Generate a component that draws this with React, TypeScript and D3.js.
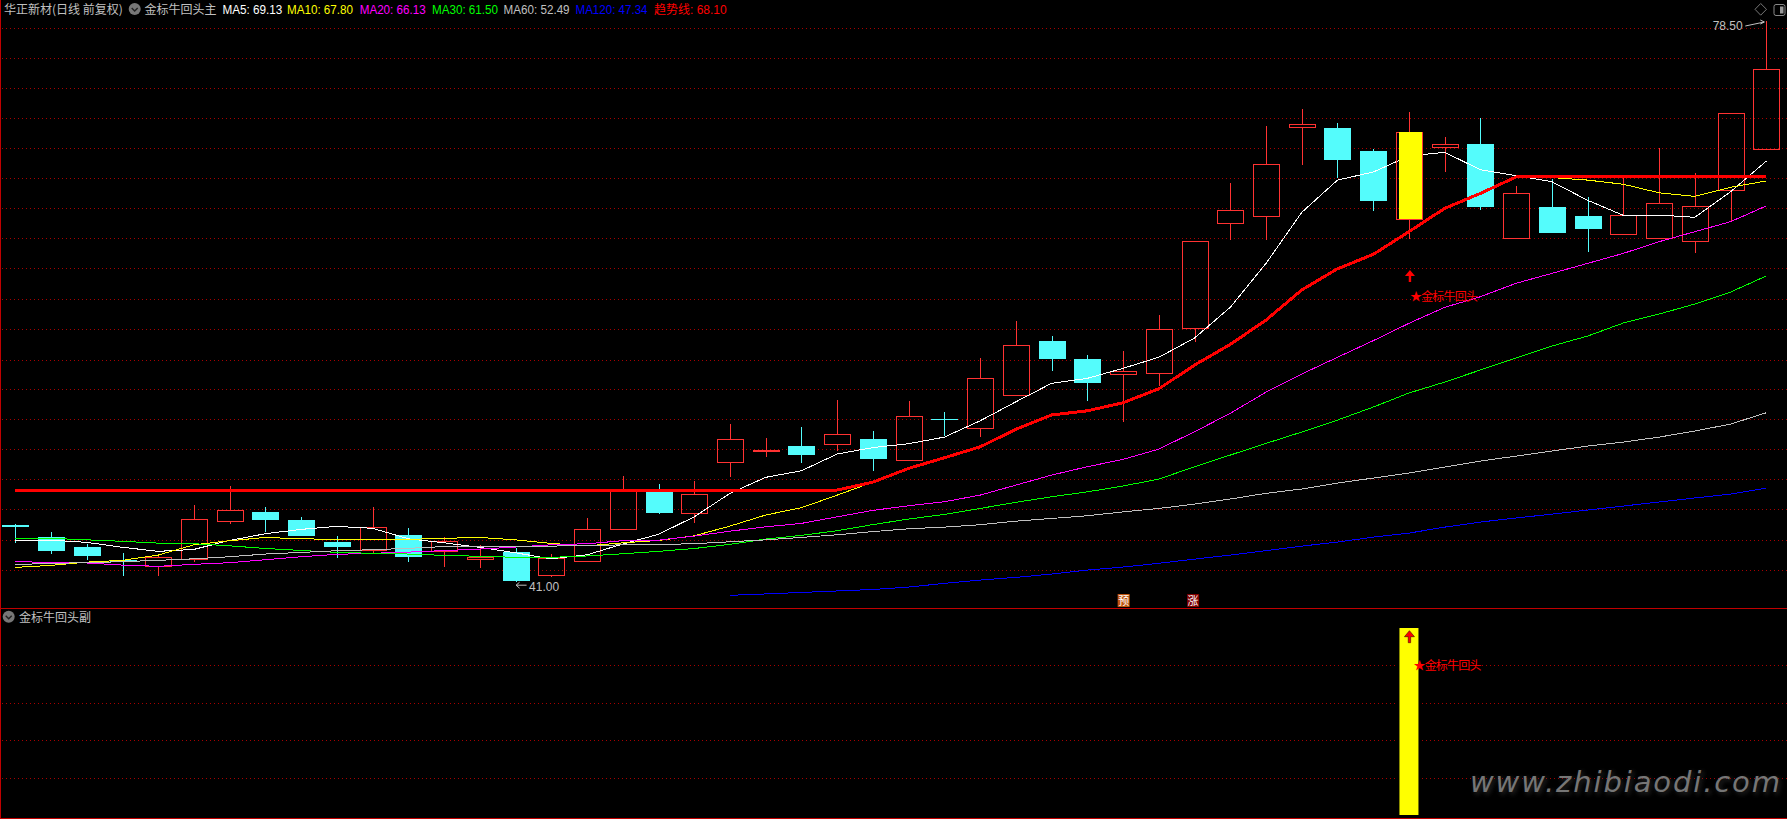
import React from "react";
import * as d3 from "d3";

const W = 1787, H = 819;
const openP = [44.79,43.98,43.32,42.45,42.03,42.53,45.08,45.64,45.12,43.65,43.12,44.12,43.05,42.53,42.98,41.46,42.40,44.54,46.99,45.61,49.02,49.72,50.07,50.23,50.54,49.16,51.88,51.30,53.50,57.10,55.89,54.91,54.98,57.98,65.01,65.48,71.39,71.34,69.80,65.28,70.07,70.27,64.00,66.06,65.46,64.27,63.98,63.80,67.18,69.97];
const closeP = [44.65,43.05,42.71,42.31,42.63,45.17,45.77,45.12,44.05,43.32,44.63,42.65,43.70,42.63,41.04,42.56,44.50,47.04,45.59,46.84,50.52,49.81,49.47,50.85,49.20,52.06,51.83,54.60,56.81,55.89,54.29,55.07,57.88,63.76,65.84,68.91,71.59,69.20,66.46,71.06,70.25,66.06,66.98,64.32,64.59,65.50,66.31,66.11,72.33,75.27];
const highP = [44.85,44.32,43.50,42.91,42.70,46.13,47.40,45.99,45.32,44.05,45.99,44.59,43.98,43.45,43.25,42.85,45.26,48.07,47.53,47.73,51.54,50.63,51.34,53.15,51.08,53.08,52.35,55.96,58.43,57.43,56.16,56.43,58.83,63.76,67.66,71.48,72.61,71.68,69.94,72.41,70.74,72.01,67.46,67.92,66.73,68.02,70.00,68.33,72.33,78.50];
const lowP = [43.60,42.85,42.45,41.38,41.38,42.31,44.87,44.32,44.05,42.58,42.90,42.31,42.00,41.93,41.00,41.33,42.40,44.54,45.52,44.92,48.00,49.34,48.93,49.74,48.40,49.16,50.74,50.67,53.50,55.09,53.08,51.68,54.08,57.05,63.85,63.85,68.87,68.00,65.79,63.92,68.40,65.86,64.00,64.32,63.05,64.27,63.98,62.98,65.03,69.97];

const ma5 = [43.76,43.78,43.63,43.30,43.03,43.16,43.76,44.21,44.50,44.70,44.57,43.87,43.60,43.30,42.93,42.53,42.80,43.52,44.17,45.34,46.91,47.98,48.42,49.54,49.97,50.23,50.67,51.76,53.03,54.27,54.60,55.27,56.01,57.30,59.35,62.29,65.70,67.86,68.40,69.47,69.72,68.55,68.15,67.75,66.51,65.50,65.52,65.37,67.08,69.13];
const ma10 = [41.96,42.09,42.31,42.43,42.78,43.47,43.74,43.96,43.87,43.83,43.83,43.83,43.90,43.96,43.80,43.56,43.40,43.60,43.76,44.07,44.72,45.46,45.95,46.79,47.66,48.58,49.29,50.02,51.19,52.15,52.43,52.97,53.90,55.49,56.87,58.50,60.51,61.93,62.89,64.41,65.97,66.97,68.07,68.03,67.86,67.58,67.01,66.77,67.38,67.80];
const ma20 = [42.36,42.27,42.25,42.11,42.03,42.16,42.27,42.47,42.67,42.83,42.90,42.98,43.08,43.18,43.32,43.47,43.54,43.74,43.78,44.05,44.38,44.67,44.90,45.34,45.77,46.08,46.35,46.79,47.46,48.13,48.69,49.18,49.87,51.03,52.26,53.68,54.89,56.01,57.12,58.28,59.35,60.06,60.96,61.62,62.29,62.96,63.74,64.41,65.08,66.13];
const ma30 = [43.90,43.90,43.80,43.70,43.58,43.54,43.40,43.22,43.09,42.96,42.90,42.85,42.76,42.70,42.63,42.63,42.72,42.87,43.03,43.22,43.50,43.85,44.10,44.41,44.82,45.19,45.50,45.90,46.31,46.68,47.01,47.40,47.86,48.69,49.47,50.25,51.01,51.81,52.68,53.62,54.35,55.16,55.96,56.76,57.43,58.30,58.90,59.57,60.37,61.45];
const ma60 = [42.14,42.23,42.27,42.34,42.43,42.53,42.67,42.85,42.96,43.07,43.14,43.23,43.35,43.36,43.36,43.38,43.43,43.46,43.49,43.54,43.67,43.80,43.96,44.14,44.35,44.54,44.65,44.81,45.05,45.23,45.41,45.67,45.90,46.19,46.53,46.91,47.20,47.60,47.93,48.27,48.67,49.07,49.40,49.74,50.07,50.34,50.67,51.08,51.54,52.30];
const ma120: (number | null)[] = [null,null,null,null,null,null,null,null,null,null,null,null,null,null,null,null,null,null,null,null,40.09,40.18,40.28,40.38,40.48,40.64,40.89,41.11,41.29,41.51,41.78,41.98,42.23,42.51,42.78,43.08,43.38,43.65,43.98,44.25,44.65,44.99,45.26,45.52,45.79,46.06,46.33,46.60,46.86,47.26];
const trend = [47.13,47.13,47.13,47.13,47.13,47.13,47.13,47.13,47.13,47.13,47.13,47.13,47.13,47.13,47.13,47.13,47.13,47.13,47.13,47.13,47.13,47.13,47.13,47.13,47.66,48.58,49.29,50.02,51.19,52.15,52.43,52.97,53.90,55.49,56.87,58.50,60.51,61.93,62.89,64.41,65.97,66.97,68.07,68.07,68.07,68.07,68.07,68.07,68.07,68.07];

const mainGrid = [78.01,76.00,74.00,71.99,69.99,67.98,65.97,63.97,61.96,59.88,57.88,55.84,53.87,51.86,49.85,47.84,45.84,43.76,41.77];
const subGrid = [0.80,0.60,0.40,0.20];
const signalIndex = 39;
const maxIndex = 49, minIndex = 14;
const maxLabel = "78.50", minLabel = "41.00";

const legendTexts = ["MA5: 69.13","MA10: 67.80","MA20: 66.13","MA30: 61.50","MA60: 52.49","MA120: 47.34"];
const legendColors = ["#ffffff","#ffff00","#ff00ff","#00ff00","#c0c0c0","#0000ff"];
const legendX = [222.4,287,359.7,432,503.6,575.5];
const legendLen = [60,66,66,66,66,72];

const x = d3.scaleLinear().domain([0, 49]).range([15.3, 1766.3]);
const y = d3.scaleLinear().domain([41, 78.5]).range([581.7, 21]);
const ySub = d3.scaleLinear().domain([0, 1]).range([815, 628]);
const px = (v: number) => Math.round(v) + 0.5;

const CJK = "'Noto Sans CJK SC', sans-serif";
const LAT = "'Liberation Sans', Arial, sans-serif";
const RED = "#ff3232", CYAN = "#54fcfc", GRID = "#a80000", FRAME = "#c00000", GREY = "#c0c0c0";

const line = d3.line<number | null>()
  .defined((d) => d !== null)
  .x((_, i) => x(i))
  .y((d) => y(d as number));

const Knob = ({ cx, cy }: { cx: number; cy: number }) => (
  <g>
    <circle cx={cx} cy={cy} r={6} fill="#777" />
    <path d={`M${cx - 3},${cy - 1}L${cx},${cy + 2}L${cx + 3},${cy - 1}`} fill="none" stroke="#222" strokeWidth={1.4} />
  </g>
);

const UpArrow = ({ cx, top, outline }: { cx: number; top: number; outline?: boolean }) => (
  <g>
    <path
      d={`M${cx},${top}L${cx + 5},${top + 6}L${cx + 1.2},${top + 6}L${cx + 1.2},${top + 12}L${cx - 1.2},${top + 12}L${cx - 1.2},${top + 6}L${cx - 5},${top + 6}Z`}
      fill="#ff0000"
      stroke={outline ? "#400000" : "none"}
      strokeWidth={outline ? 0.6 : 0}
    />
  </g>
);

export default function App() {
  const series: [(number | null)[], string, number][] = [
    [ma5, "#ffffff", 1],
    [ma10, "#ffff00", 1],
    [ma20, "#ff00ff", 1],
    [ma30, "#00ff00", 1],
    [ma60, "#c0c0c0", 1],
    [ma120, "#0000ff", 1],
    [trend, "#ff0000", 3],
  ];
  const sx = x(signalIndex);
  const scx = Math.round(sx) + 0.5;
  const sTop = Math.round(y(closeP[signalIndex]));
  const sBot = Math.round(y(openP[signalIndex]));
  return (
    <svg
      width={W}
      height={H}
      viewBox={`0 0 ${W} ${H}`}
      style={{ position: "absolute", left: 0, top: 0, display: "block", background: "#000" }}
    >
      <defs>
        <filter id="wmBlur" x="-5%" y="-30%" width="110%" height="160%">
          <feGaussianBlur stdDeviation="2" />
        </filter>
      </defs>
      <rect x={0} y={0} width={W} height={H} fill="#000" />

      {/* grids */}
      <g shapeRendering="crispEdges" stroke={GRID} strokeDasharray="1 3" strokeWidth={1}>
        {mainGrid.map((p) => (
          <line key={p} x1={2} x2={W} y1={px(y(p))} y2={px(y(p))} />
        ))}
        {subGrid.map((p) => (
          <line key={p} x1={2} x2={W} y1={px(ySub(p))} y2={px(ySub(p))} />
        ))}
      </g>

      {/* frame */}
      <g shapeRendering="crispEdges" stroke={FRAME} strokeWidth={1}>
        <line x1={0.5} x2={0.5} y1={0} y2={H} />
        <line x1={0} x2={W} y1={608.5} y2={608.5} />
        <line x1={0} x2={W} y1={818.5} y2={818.5} />
      </g>

      {/* candles */}
      <g shapeRendering="crispEdges">
        {openP.map((o, i) => {
          const c = closeP[i];
          const cx = Math.round(x(i)) + 0.5;
          const up = c >= o;
          const top = Math.round(y(Math.max(o, c)));
          const bot = Math.round(y(Math.min(o, c)));
          const hi = Math.round(y(highP[i]));
          const lo = Math.round(y(lowP[i]));
          const col = up ? RED : CYAN;
          return (
            <g key={i}>
              <line x1={cx} x2={cx} y1={hi} y2={top} stroke={col} />
              <line x1={cx} x2={cx} y1={bot} y2={lo} stroke={col} />
              {up ? (
                <rect x={cx - 13} y={top + 0.5} width={26} height={Math.max(bot - top, 1)} fill="none" stroke={RED} />
              ) : (
                <rect x={cx - 13.5} y={top} width={27} height={Math.max(bot - top, 1)} fill={CYAN} />
              )}
            </g>
          );
        })}
      </g>

      {/* moving averages */}
      <g fill="none" shapeRendering="crispEdges">
        {series.map(([d, col, w], k) => (
          <path key={k} d={line(d) ?? ""} stroke={col} strokeWidth={w} />
        ))}
      </g>

      {/* signal candle drawn above the lines */}
      <g shapeRendering="crispEdges">
        <rect x={scx - 13} y={sTop + 0.5} width={26} height={sBot - sTop} fill="none" stroke={RED} />
        <rect x={scx - 11} y={sTop} width={23} height={sBot - sTop} fill="#ffff00" />
      </g>

      {/* header */}
      <text x={4} y={14} fontFamily={CJK} fontSize={12} fill={GREY}>华正新材(日线 前复权)</text>
      <Knob cx={134.7} cy={9} />
      <text x={144.4} y={14} fontFamily={CJK} fontSize={12} fill={GREY}>金标牛回头主</text>
      {legendTexts.map((t, i) => (
        <text key={t} x={legendX[i]} y={14} fontFamily={LAT} fontSize={12} fill={legendColors[i]} textLength={legendLen[i]} lengthAdjust="spacingAndGlyphs">{t}</text>
      ))}
      <text x={654} y={14} fontFamily={CJK} fontSize={12} fill="#ff0000">趋势线<tspan fontFamily={LAT}>: 68.10</tspan></text>

      {/* top right icons */}
      <path d="M1760.7,3.5L1766.5,9.3L1760.7,15.2L1755,9.3Z" fill="none" stroke="#777" />
      <rect x={1774} y={4.5} width={11} height={11} rx={2} fill="none" stroke="#888" />
      <rect x={1780} y={6.5} width={3.5} height={7} fill="#999" />

      {/* extremes */}
      <text x={x(maxIndex) - 53.6} y={30} fontFamily={LAT} fontSize={12} fill={GREY}>{maxLabel}</text>
      <path d={`M${x(maxIndex) - 21},${y(78.5) + 5}L${x(maxIndex) - 2},${y(78.5) + 1}M${x(maxIndex) - 6},${y(78.5) - 1}L${x(maxIndex) - 2},${y(78.5) + 1}L${x(maxIndex) - 6},${y(78.5) + 3}`} fill="none" stroke={GREY} />
      <text x={x(minIndex) + 13.5} y={591} fontFamily={LAT} fontSize={12} fill={GREY}>{minLabel}</text>
      <path d={`M${x(minIndex) + 11},${y(41) + 3.5}L${x(minIndex) + 0.5},${y(41) + 3.5}M${x(minIndex) + 4},${y(41) + 0.5}L${x(minIndex) + 0.5},${y(41) + 3.5}L${x(minIndex) + 4},${y(41) + 6.5}`} fill="none" stroke={GREY} />

      {/* signal in main panel */}
      <UpArrow cx={sx + 1} top={270} />
      <text x={sx + 1} y={301} fontFamily={CJK} fontSize={12} fill="#ff0000" textLength={68}>★金标牛回头</text>

      {/* 预 涨 */}
      <g fontFamily={CJK} fontSize={11} fill="#fff" textAnchor="middle">
        <rect x={x(30) + 30.3} y={594} width={12} height={13} fill="#c05510" />
        <text x={x(30) + 36.3} y={604.5}>预</text>
        <rect x={x(32) + 28.3} y={594} width={12} height={13} fill="#800000" />
        <text x={x(32) + 34.3} y={604.5}>涨</text>
      </g>

      {/* sub panel */}
      <Knob cx={8.7} cy={616.7} />
      <text x={19} y={621.5} fontFamily={CJK} fontSize={12} fill={GREY}>金标牛回头副</text>
      <rect x={sx - 11.5} y={ySub(1) - 2} width={23} height={ySub(0) - ySub(1) + 2} fill="#000" />
      <rect x={sx - 9.5} y={ySub(1)} width={19} height={ySub(0) - ySub(1)} fill="#ffff00" />
      <UpArrow cx={sx + 0.5} top={630.7} outline />
      <text x={sx + 4.5} y={670} fontFamily={CJK} fontSize={12} fill="#ff0000" textLength={68}>★金标牛回头</text>

      {/* watermark */}
      <text x={1472} y={794} fontFamily="'DejaVu Sans', sans-serif" fontStyle="italic" fontSize={29} fill="#000" stroke="#555" strokeWidth={1} textLength={310} filter="url(#wmBlur)" opacity={0.5}>www.zhibiaodi.com</text>
      <text x={1470} y={792} fontFamily="'DejaVu Sans', sans-serif" fontStyle="italic" fontSize={29} fill="#767676" textLength={310}>www.zhibiaodi.com</text>
    </svg>
  );
}
